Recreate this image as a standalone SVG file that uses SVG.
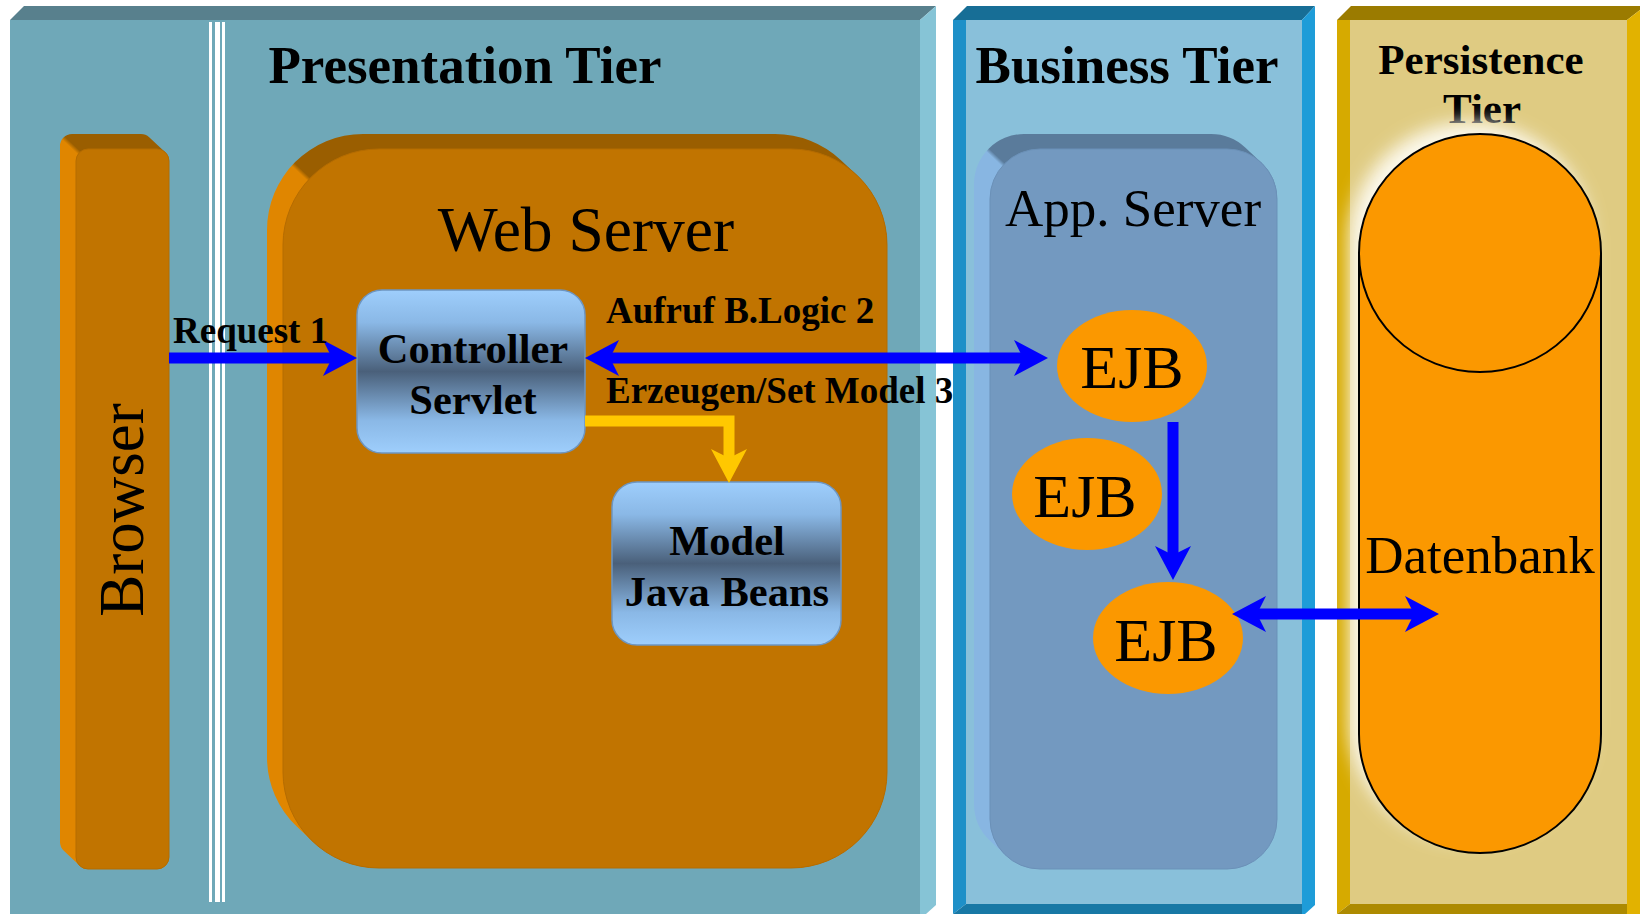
<svg xmlns="http://www.w3.org/2000/svg" width="1640" height="914" viewBox="0 0 1640 914">
  <style>
    .t { font-family: "Liberation Serif", "Times New Roman", serif; fill: #000; }
    .b { font-weight: bold; }
    .blue { stroke: #0000ff; stroke-width: 11; fill: none; }
    .gold { stroke: #ffc800; stroke-width: 11; fill: none; stroke-linejoin: miter; }
    .ejb { fill: #fb9800; }
    .glass { fill: url(#glass); stroke: #6d95c0; stroke-width: 1.5; }
    .sep { fill: #ffffff; }
  </style>
  <defs>
    <marker id="ahBlue" viewBox="-35 -19 36 38" refX="-20" refY="0" markerWidth="36" markerHeight="38" markerUnits="userSpaceOnUse" orient="auto-start-reverse">
      <path d="M0,0 L-34,-18 L-25,0 L-34,18 Z" fill="#0000ff"/>
    </marker>
    <marker id="ahGold" viewBox="-35 -19 36 38" refX="-20" refY="0" markerWidth="36" markerHeight="38" markerUnits="userSpaceOnUse" orient="auto">
      <path d="M0,0 L-34,-18 L-25,0 L-34,18 Z" fill="#ffc800"/>
    </marker>
    <!-- bevel shading: light left side, dark top side, split along the extrusion diagonal -->
    <linearGradient id="bevBrowser" gradientUnits="userSpaceOnUse" x1="77.8" y1="154.3" x2="80.6" y2="151.3">
      <stop offset="0" stop-color="#e08600"/><stop offset="1" stop-color="#9a5e00"/>
    </linearGradient>
    <linearGradient id="bevWeb" gradientUnits="userSpaceOnUse" x1="307.5" y1="180.8" x2="310.3" y2="177.8">
      <stop offset="0" stop-color="#e08600"/><stop offset="1" stop-color="#9a5e00"/>
    </linearGradient>
    <linearGradient id="bevApp" gradientUnits="userSpaceOnUse" x1="1002.1" y1="166.3" x2="1004.9" y2="163.3">
      <stop offset="0" stop-color="#88b6e2"/><stop offset="1" stop-color="#5a7b9b"/>
    </linearGradient>
    <linearGradient id="glass" x1="0" y1="0" x2="0" y2="1">
      <stop offset="0" stop-color="#9ecefc"/>
      <stop offset="0.2" stop-color="#8ab8e6"/>
      <stop offset="0.5" stop-color="#4a607a"/>
      <stop offset="0.8" stop-color="#8ab8e6"/>
      <stop offset="1" stop-color="#9ecefc"/>
    </linearGradient>
    <filter id="soft" x="-30%" y="-30%" width="160%" height="160%">
      <feGaussianBlur stdDeviation="9"/>
    </filter>
  </defs>

  <rect width="1640" height="914" fill="#ffffff"/>

  <!-- Presentation tier panel -->
  <g id="presentation-tier">
    <rect x="10" y="20" width="910" height="894" fill="#6fa8b8"/>
    <polygon points="10,20 24,6 936,6 920,20" fill="#58808d"/>
    <polygon points="920,20 936,6 936,905 926,914 920,914" fill="#86c4d6"/>
    <rect class="sep" x="209" y="22" width="3" height="880"/>
    <rect class="sep" x="215" y="22" width="5" height="880"/>
    <rect class="sep" x="222" y="22" width="3" height="880"/>
    <text class="t b" x="465" y="83" font-size="53" text-anchor="middle">Presentation Tier</text>
  </g>

  <!-- Business tier panel -->
  <g id="business-tier">
    <rect x="966" y="20" width="336" height="884" fill="#89c0da"/>
    <polygon points="953,20 967,6 1315,6 1302,20" fill="#176e96"/>
    <polygon points="953,20 966,20 966,904 953,914" fill="#1e90c8"/>
    <polygon points="1302,20 1315,6 1315,905 1305,914 1302,914" fill="#1e9cd8"/>
    <polygon points="953,914 966,904 1302,904 1302,914" fill="#1878a5"/>
    <text class="t b" x="1127" y="83" font-size="53" text-anchor="middle">Business Tier</text>
  </g>

  <!-- Persistence tier panel -->
  <g id="persistence-tier">
    <rect x="1350" y="20" width="277" height="884" fill="#dfcb82"/>
    <polygon points="1337,20 1351,6 1640,6 1640,10 1627,20" fill="#9b7b00"/>
    <polygon points="1337,20 1350,20 1350,904 1337,914" fill="#d6aa00"/>
    <polygon points="1627,20 1640,10 1640,914 1627,914" fill="#e2b200"/>
    <polygon points="1337,914 1350,904 1627,904 1627,914" fill="#ad8a00"/>
    <text class="t b" x="1481" y="74" font-size="43" text-anchor="middle">Persistence</text>
    <text class="t b" x="1482" y="123" font-size="43" text-anchor="middle">Tier</text>
  </g>

  <!-- Browser -->
  <g id="browser">
    <path d="M72,134 H141 A12,12 0 0 1 149.2,137.2 L165.2,152.2 A12,12 0 0 1 169,161 V857 A12,12 0 0 1 157,869 H88 A12,12 0 0 1 79.8,865.8 L63.8,850.8 A12,12 0 0 1 60,842 V146 A12,12 0 0 1 72,134 Z" fill="url(#bevBrowser)"/>
    <rect x="76" y="149" width="93" height="720" rx="12" fill="#c17400" stroke="#b56c00" stroke-width="1"/>
    <text class="t" transform="translate(143,510) rotate(-90)" font-size="63" text-anchor="middle">Browser</text>
  </g>

  <!-- Web server -->
  <g id="web-server">
    <path d="M363,134 H775 A96,96 0 0 1 840.7,159.9 L856.7,174.9 A96,96 0 0 1 887,245 V772 A96,96 0 0 1 791,868 H379 A96,96 0 0 1 313.3,842.1 L297.3,827.1 A96,96 0 0 1 267,757 V230 A96,96 0 0 1 363,134 Z" fill="url(#bevWeb)"/>
    <rect x="283" y="149" width="604" height="719" rx="96" fill="#c17400" stroke="#b56c00" stroke-width="1"/>
    <text class="t" x="586" y="251" font-size="63.5" text-anchor="middle">Web Server</text>
  </g>

  <!-- Controller servlet -->
  <g id="controller-servlet">
    <rect class="glass" x="357" y="290" width="228" height="163" rx="25"/>
    <text class="t b" x="473" y="363" font-size="42.5" text-anchor="middle">Controller</text>
    <text class="t b" x="473" y="414" font-size="42.5" text-anchor="middle">Servlet</text>
  </g>

  <!-- Model java beans -->
  <g id="model-java-beans">
    <rect class="glass" x="612" y="482" width="229" height="163" rx="25"/>
    <text class="t b" x="727" y="555" font-size="42.5" text-anchor="middle">Model</text>
    <text class="t b" x="727" y="606" font-size="42.5" text-anchor="middle">Java Beans</text>
  </g>

  <!-- Application server -->
  <g id="app-server">
    <path d="M1024,134 H1211 A50,50 0 0 1 1245.2,147.5 L1261.2,162.5 A50,50 0 0 1 1277,199 V819 A50,50 0 0 1 1227,869 H1040 A50,50 0 0 1 1005.8,855.5 L989.8,840.5 A50,50 0 0 1 974,804 V184 A50,50 0 0 1 1024,134 Z" fill="url(#bevApp)"/>
    <rect x="990" y="149" width="287" height="720" rx="50" fill="#7399c0" stroke="#6b91b8" stroke-width="1"/>
    <text class="t" x="1133" y="226" font-size="53" text-anchor="middle">App. Server</text>
  </g>

  <g id="ejb-1">
    <ellipse class="ejb" cx="1132" cy="366" rx="75" ry="56"/>
    <text class="t" x="1132" y="388" font-size="62" text-anchor="middle">EJB</text>
  </g>
  <g id="ejb-2">
    <ellipse class="ejb" cx="1087" cy="494" rx="75" ry="56"/>
    <text class="t" x="1085" y="517" font-size="62" text-anchor="middle">EJB</text>
  </g>
  <g id="ejb-3">
    <ellipse class="ejb" cx="1168" cy="638" rx="75" ry="56"/>
    <text class="t" x="1166" y="661" font-size="62" text-anchor="middle">EJB</text>
  </g>

  <!-- Database cylinder with its soft halo -->
  <g id="datenbank">
    <path d="M1359,253 A121,119 0 0 1 1601,253 V734 A121,119 0 0 1 1359,734 Z" fill="#fdfaf0" opacity="0.97" transform="translate(-10,-12)" filter="url(#soft)"/>
    <path d="M1359,253 V734 A121,119 0 0 0 1601,734 V253" fill="#fb9800" stroke="#000" stroke-width="2"/>
    <ellipse cx="1480" cy="253" rx="121" ry="119" fill="#fb9800" stroke="#000" stroke-width="2"/>
    <text class="t" x="1480" y="573" font-size="53" text-anchor="middle">Datenbank</text>
  </g>

  <!-- Connectors -->
  <g id="connectors">
    <path class="blue" d="M169,358 H337" marker-end="url(#ahBlue)"/>
    <path class="blue" d="M605,358 H1028" marker-start="url(#ahBlue)" marker-end="url(#ahBlue)"/>
    <path class="gold" d="M585,421 H729 V463" marker-end="url(#ahGold)"/>
    <path class="blue" d="M1173,422 V560" marker-end="url(#ahBlue)"/>
    <path class="blue" d="M1252,614 H1419" marker-start="url(#ahBlue)" marker-end="url(#ahBlue)"/>
    <text class="t b" x="173" y="343" font-size="37">Request 1</text>
    <text class="t b" x="606" y="323" font-size="37">Aufruf B.Logic 2</text>
    <text class="t b" x="606" y="403" font-size="37">Erzeugen/Set Model 3</text>
  </g>
</svg>
